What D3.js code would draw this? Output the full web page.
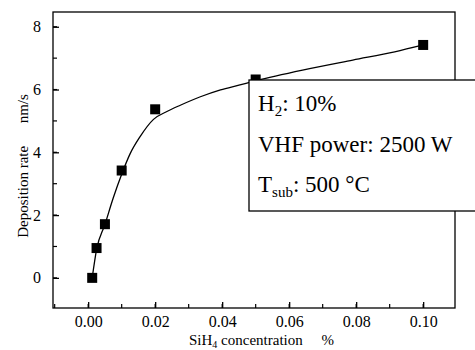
<!DOCTYPE html>
<html>
<head>
<meta charset="utf-8">
<script src="https://cdn.jsdelivr.net/npm/d3@7"></script>
<style>
  body { margin: 0; background: #fff; }
  svg, svg text { font-family: "Liberation Serif", "Times New Roman", serif; }
</style>
</head>
<body>
<div id="chart"></div>
<script>
// measured points
const conc = [0.0012, 0.0025, 0.005, 0.01, 0.02, 0.05, 0.1];
const rate = [0.0, 0.95, 1.71, 3.42, 5.37, 6.32, 7.42];

// fitted curve
const fitX = [0.0012, 0.0025, 0.005, 0.0075, 0.01, 0.0125, 0.0155, 0.0195, 0.0235, 0.0275, 0.0335, 0.0395, 0.045, 0.05, 0.064, 0.079, 0.0915, 0.1];
const fitY = [0.0, 0.9, 1.7, 2.55, 3.3, 3.95, 4.5, 5.05, 5.3, 5.5, 5.77, 5.99, 6.14, 6.28, 6.62, 6.94, 7.2, 7.42];

const xTicks = [0.00, 0.02, 0.04, 0.06, 0.08, 0.10];
const yTicks = [0, 2, 4, 6, 8];

const legendLines = [
  { main: "H", sub: "2", rest: ": 10%" },
  { main: "VHF power: 2500 W", sub: "", rest: "" },
  { main: "T", sub: "sub", rest: ": 500 °C" }
];

let margin = {top: 12, right: 20, bottom: 42, left: 53};
let width = 475 - margin.left - margin.right;
let height = 350 - margin.top - margin.bottom;

let svg = d3.select("#chart")
  .append("svg")
  .attr("width", 475)
  .attr("height", 350)
  .append("g")
  .attr("transform", "translate(" + margin.left + "," + margin.top + ")");

let x = d3.scaleLinear()
  .domain([-0.0105, 0.1095])
  .range([0, width]);

let y = d3.scaleLinear()
  .domain([-0.96, 8.47])
  .range([height, 0]);

// frame
svg.append("rect")
  .attr("width", width)
  .attr("height", height)
  .attr("fill", "none")
  .attr("stroke", "#000")
  .attr("stroke-width", 1.3);

// minor ticks
let xMinor = d3.range(-0.01, 0.1095, 0.01);
let yMinor = d3.range(-1, 8.5, 1).filter(v => v >= -0.96);

svg.append("g")
  .selectAll("line")
  .data(xMinor)
  .enter()
  .append("line")
  .attr("x1", d => x(d)).attr("x2", d => x(d))
  .attr("y1", height).attr("y2", height - 4)
  .attr("stroke", "#000").attr("stroke-width", 1.2);

svg.append("g")
  .selectAll("line")
  .data(yMinor)
  .enter()
  .append("line")
  .attr("x1", 0).attr("x2", 4)
  .attr("y1", d => y(d)).attr("y2", d => y(d))
  .attr("stroke", "#000").attr("stroke-width", 1.2);

// X axis
let xAxis = svg.append("g")
  .attr("transform", "translate(0," + height + ")")
  .call(d3.axisBottom(x).tickValues(xTicks).tickSizeInner(-6).tickSizeOuter(0).tickPadding(8).tickFormat(d3.format(".2f")));
xAxis.attr("font-family", null);
xAxis.select(".domain").remove();
xAxis.selectAll("line").attr("stroke-width", 1.3);
xAxis.selectAll("text").style("font-size", "16px").style("font-family", "'Liberation Serif', serif");

// Y axis
let yAxis = svg.append("g")
  .call(d3.axisLeft(y).tickValues(yTicks).tickSizeInner(-6).tickSizeOuter(0).tickPadding(12).tickFormat(d3.format("d")));
yAxis.attr("font-family", null);
yAxis.select(".domain").remove();
yAxis.selectAll("line").attr("stroke-width", 1.3);
yAxis.selectAll("text").style("font-size", "16px").style("font-family", "'Liberation Serif', serif");

// fitted curve
let fit = fitX.map((d, i) => [d, fitY[i]]);
svg.append("path")
  .datum(fit)
  .attr("fill", "none")
  .attr("stroke", "#000")
  .attr("stroke-width", 1.3)
  .attr("d", d3.line().x(d => x(d[0])).y(d => y(d[1])).curve(d3.curveMonotoneX));

// markers
let s = 10;
svg.selectAll("rect.pt")
  .data(conc)
  .enter()
  .append("rect")
  .attr("class", "pt")
  .attr("x", d => x(d) - s / 2)
  .attr("y", (d, i) => y(rate[i]) - s / 2)
  .attr("width", s)
  .attr("height", s)
  .attr("fill", "#000");

// axis titles
let xt = svg.append("text")
  .attr("x", 189 - margin.left)
  .attr("y", height + 37)
  .attr("font-size", 15)
  .attr("xml:space", "preserve");
xt.append("tspan").text("SiH");
xt.append("tspan").attr("font-size", 10).attr("dy", 3).text("4");
xt.append("tspan").attr("dy", -3).text(" concentration     %");

svg.append("text")
  .attr("transform", "translate(-25," + (166 - margin.top) + ")rotate(-90)")
  .attr("text-anchor", "middle")
  .attr("font-size", 15)
  .attr("xml:space", "preserve")
  .text("Deposition rate      nm/s");

// legend box
let lg = svg.append("g")
  .attr("transform", "translate(" + (249 - margin.left) + "," + (80 - margin.top) + ")");
lg.append("rect")
  .attr("width", 260)
  .attr("height", 131)
  .attr("fill", "#fff")
  .attr("stroke", "#000")
  .attr("stroke-width", 1.3);

legendLines.forEach((l, i) => {
  let t = lg.append("text")
    .attr("x", 9)
    .attr("y", 31 + i * 40.5)
    .attr("font-size", 23);
  t.append("tspan").text(l.main);
  if (l.sub) {
    t.append("tspan").attr("font-size", 15).attr("dy", 5).text(l.sub);
    t.append("tspan").attr("dy", -5).text(l.rest);
  }
});
</script>
</body>
</html>
